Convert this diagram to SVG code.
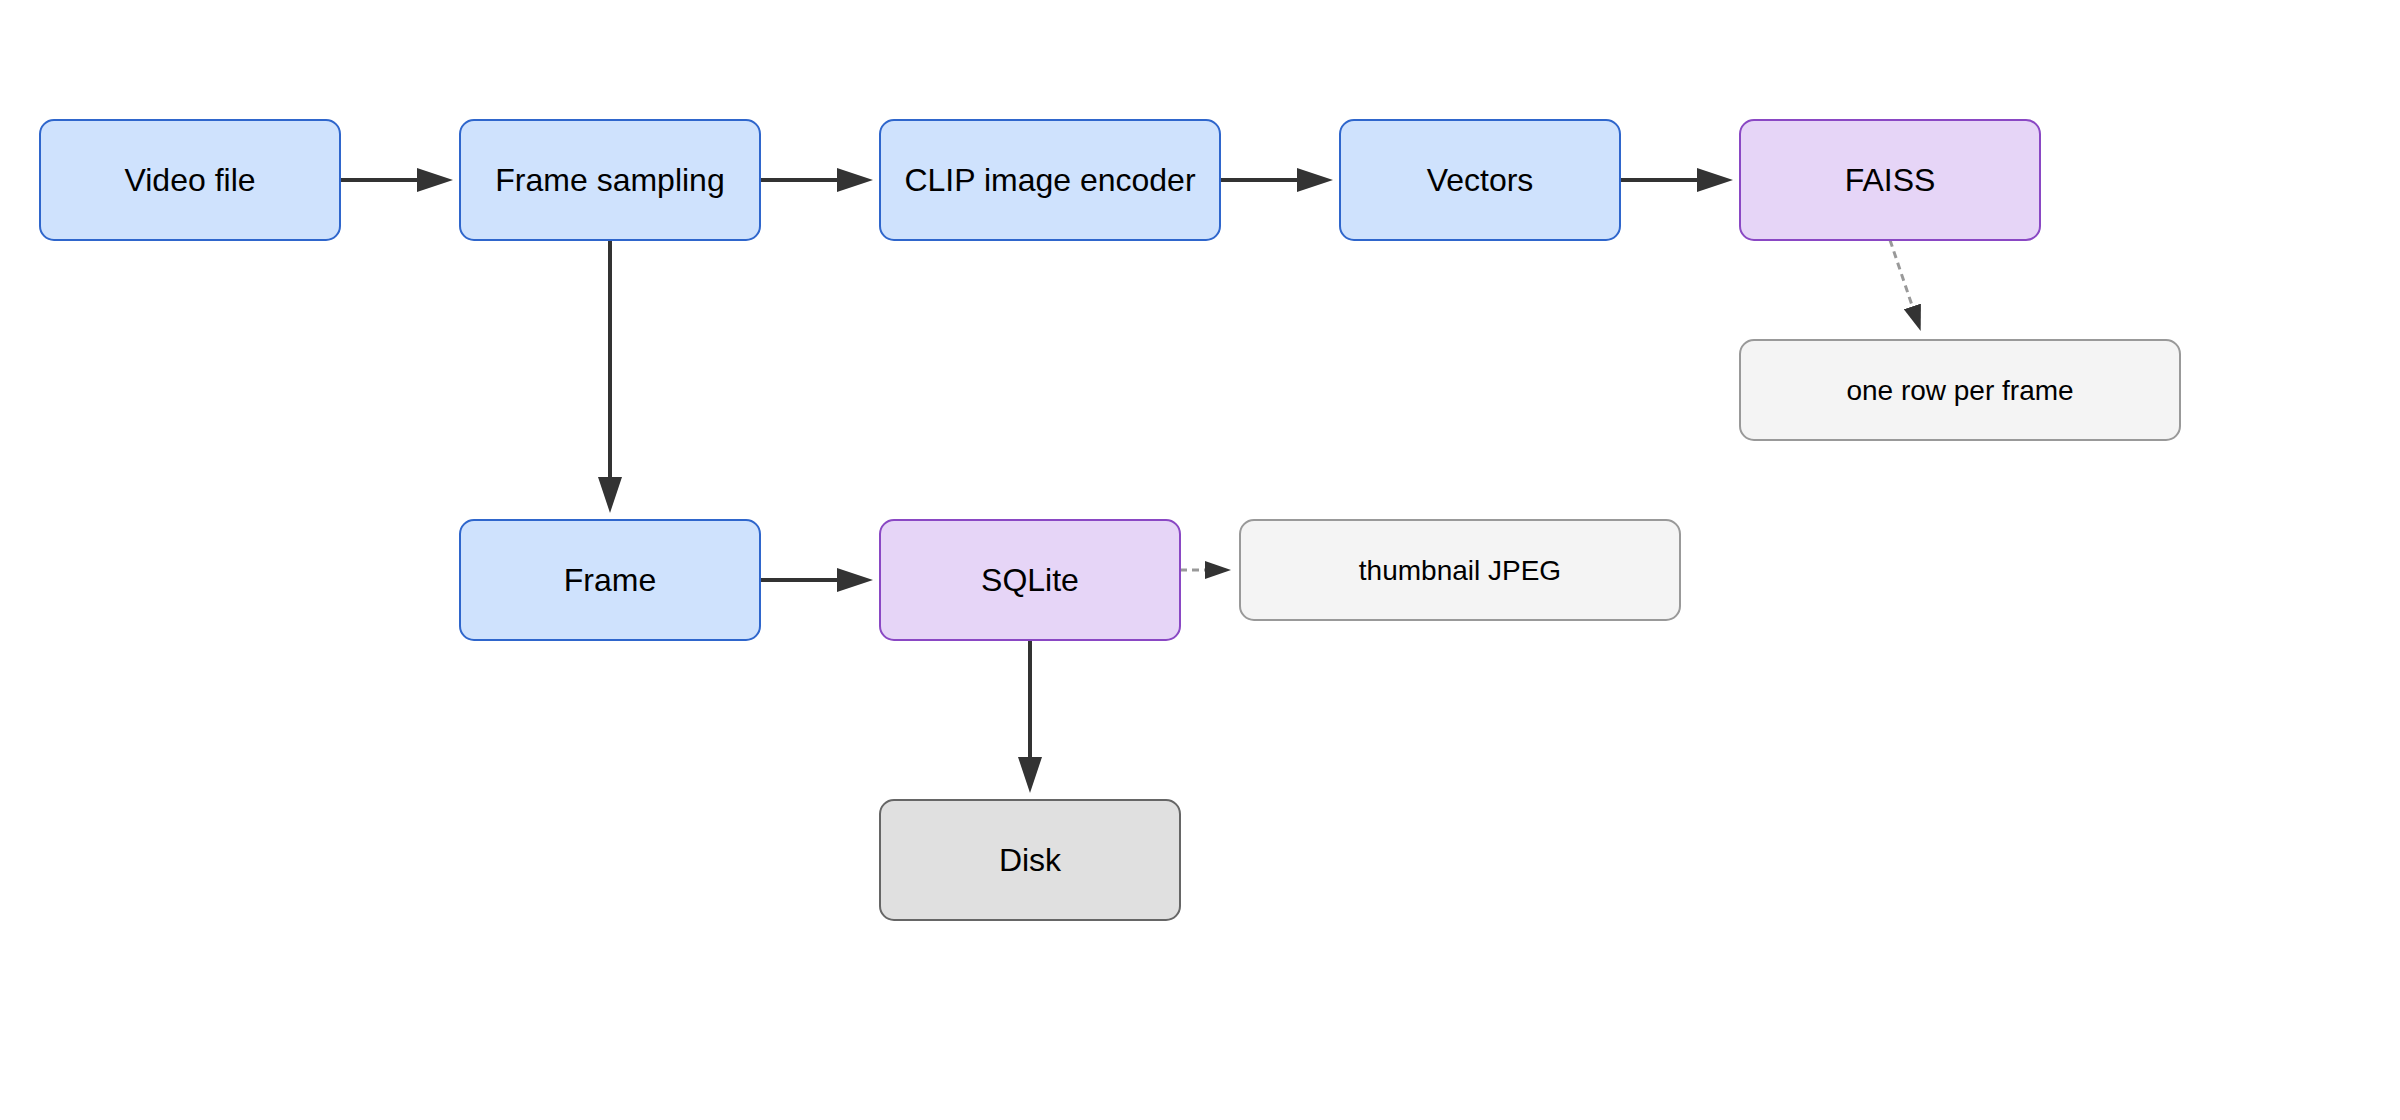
<svg xmlns="http://www.w3.org/2000/svg" width="2400" height="1120" viewBox="0 0 2400 1120">
<defs>
<style>
.blue{fill:#cfe2fd;stroke:#2f66cc;stroke-width:2}
.purple{fill:#e6d5f7;stroke:#8a48c4;stroke-width:2}
.note{fill:#f4f4f4;stroke:#999;stroke-width:2}
.disk{fill:#e0e0e0;stroke:#666;stroke-width:2}
.lbl{font-family:"Liberation Sans",Arial,sans-serif;font-size:32px;fill:#000;text-anchor:middle}
.nlbl{font-family:"Liberation Sans",Arial,sans-serif;font-size:28px;fill:#000;text-anchor:middle}
.solid{fill:none;stroke:#333;stroke-width:4}
.dash{fill:none;stroke:#999;stroke-width:3;stroke-dasharray:7 5}
</style>
<marker id="ah" markerUnits="userSpaceOnUse" viewBox="0 0 36 24" markerWidth="36" markerHeight="24" refX="1" refY="12" orient="auto"><path d="M0,0 L36,12 L0,24 Z" fill="#333"/></marker>
<marker id="ahs" markerUnits="userSpaceOnUse" viewBox="0 0 26 18" markerWidth="26" markerHeight="18" refX="1" refY="9" orient="auto"><path d="M0,0 L26,9 L0,18 Z" fill="#333"/></marker>
</defs>
<rect width="2400" height="1120" fill="#fff"/>
<g id="connectors">
<path class="solid" d="M340,180 L418,180" marker-end="url(#ah)"/>
<path class="solid" d="M760,180 L838,180" marker-end="url(#ah)"/>
<path class="solid" d="M1220,180 L1298,180" marker-end="url(#ah)"/>
<path class="solid" d="M1620,180 L1698,180" marker-end="url(#ah)"/>
<path class="solid" d="M610,240 L610,478" marker-end="url(#ah)"/>
<path class="solid" d="M760,580 L838,580" marker-end="url(#ah)"/>
<path class="solid" d="M1030,640 L1030,758" marker-end="url(#ah)"/>
<path class="dash" d="M1180,570 L1206,570" marker-end="url(#ahs)"/>
<path class="dash" d="M1890,240 L1912.7,307.4" marker-end="url(#ahs)"/>
</g>
<g id="video-file"><rect class="blue" x="40" y="120" width="300" height="120" rx="14"/><text class="lbl" x="190" y="191">Video file</text></g>
<g id="frame-sampling"><rect class="blue" x="460" y="120" width="300" height="120" rx="14"/><text class="lbl" x="610" y="191">Frame sampling</text></g>
<g id="clip-encoder"><rect class="blue" x="880" y="120" width="340" height="120" rx="14"/><text class="lbl" x="1050" y="191">CLIP image encoder</text></g>
<g id="vectors"><rect class="blue" x="1340" y="120" width="280" height="120" rx="14"/><text class="lbl" x="1480" y="191">Vectors</text></g>
<g id="faiss"><rect class="purple" x="1740" y="120" width="300" height="120" rx="14"/><text class="lbl" x="1890" y="191">FAISS</text></g>
<g id="one-row"><rect class="note" x="1740" y="340" width="440" height="100" rx="14"/><text class="nlbl" x="1960" y="400">one row per frame</text></g>
<g id="frame"><rect class="blue" x="460" y="520" width="300" height="120" rx="14"/><text class="lbl" x="610" y="591">Frame</text></g>
<g id="sqlite"><rect class="purple" x="880" y="520" width="300" height="120" rx="14"/><text class="lbl" x="1030" y="591">SQLite</text></g>
<g id="thumbnail"><rect class="note" x="1240" y="520" width="440" height="100" rx="14"/><text class="nlbl" x="1460" y="580">thumbnail JPEG</text></g>
<g id="disk"><rect class="disk" x="880" y="800" width="300" height="120" rx="14"/><text class="lbl" x="1030" y="871">Disk</text></g>
</svg>
